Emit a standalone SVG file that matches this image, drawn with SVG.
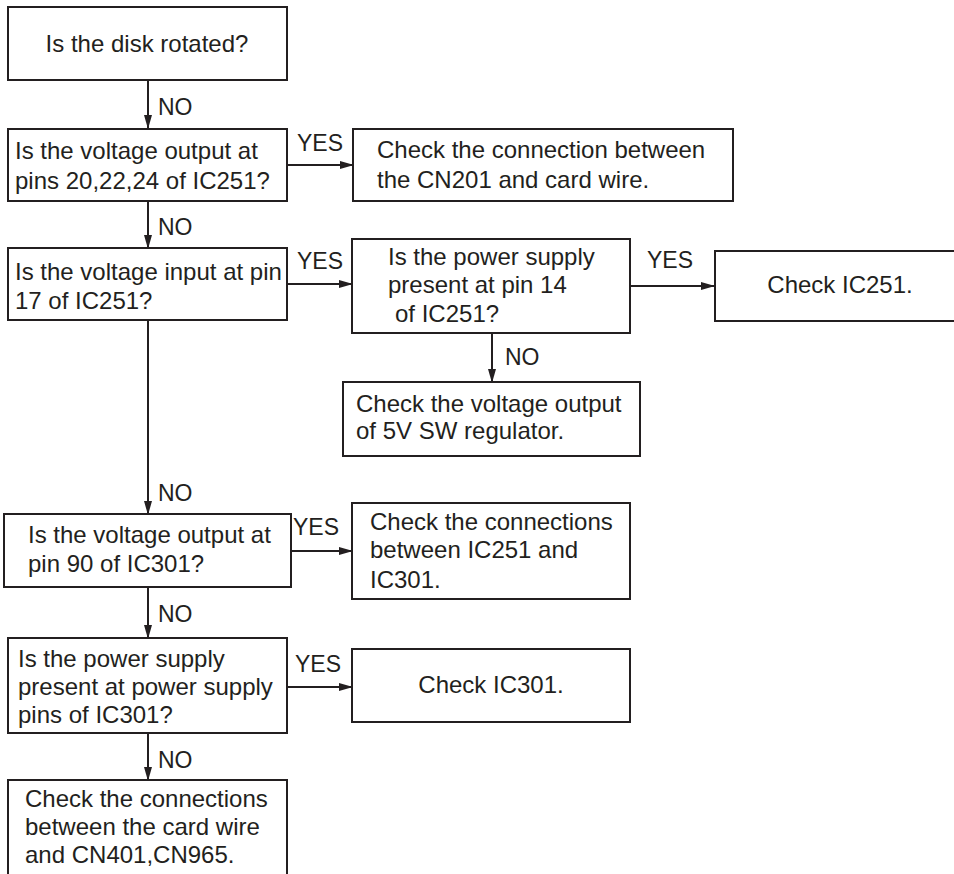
<svg xmlns="http://www.w3.org/2000/svg" width="954" height="874" viewBox="0 0 954 874">
<defs>
<marker id="ah" markerWidth="14" markerHeight="10" refX="13" refY="5" orient="auto" markerUnits="userSpaceOnUse">
<path d="M0,1 L14,5 L0,9 Z" fill="#231f20"/>
</marker>
</defs>
<style>
.box{fill:#fff;stroke:#231f20;stroke-width:2}
.t{font-family:"Liberation Sans",Arial,sans-serif;font-size:24px;fill:#231f20}
.c{text-anchor:middle}
.l{font-family:"Liberation Sans",Arial,sans-serif;font-size:23px;fill:#231f20}
.e{fill:none;stroke:#231f20;stroke-width:2}
</style>
<rect width="954" height="874" fill="#fff"/>
<g id="connectors">
<line class="e" x1="148" y1="80" x2="148" y2="128" marker-end="url(#ah)"/>
<line class="e" x1="287" y1="165" x2="353" y2="165" marker-end="url(#ah)"/>
<line class="e" x1="148" y1="201" x2="148" y2="248" marker-end="url(#ah)"/>
<line class="e" x1="287" y1="284" x2="352" y2="284" marker-end="url(#ah)"/>
<line class="e" x1="630" y1="286" x2="714" y2="286" marker-end="url(#ah)"/>
<line class="e" x1="492" y1="333" x2="492" y2="382" marker-end="url(#ah)"/>
<line class="e" x1="148" y1="320" x2="148" y2="514" marker-end="url(#ah)"/>
<line class="e" x1="291" y1="551" x2="352" y2="551" marker-end="url(#ah)"/>
<line class="e" x1="148" y1="587" x2="148" y2="638" marker-end="url(#ah)"/>
<line class="e" x1="287" y1="687" x2="352" y2="687" marker-end="url(#ah)"/>
<line class="e" x1="148" y1="733" x2="148" y2="780" marker-end="url(#ah)"/>
<text class="l" x="158" y="115">NO</text>
<text class="l" x="158" y="235">NO</text>
<text class="l" x="158" y="501">NO</text>
<text class="l" x="158" y="622">NO</text>
<text class="l" x="158" y="768">NO</text>
<text class="l" x="505" y="365">NO</text>
<text class="l" x="297" y="151">YES</text>
<text class="l" x="297" y="269">YES</text>
<text class="l" x="647" y="268">YES</text>
<text class="l" x="293" y="535">YES</text>
<text class="l" x="295" y="672">YES</text>
</g>
<g id="n1"><rect class="box" x="8" y="7" width="279" height="73"/><text class="t c" x="147" y="52">Is the disk rotated?</text></g>
<g id="n2"><rect class="box" x="8" y="129" width="279" height="72"/><text class="t" x="15" y="159">Is the voltage output at</text><text class="t" x="15" y="189">pins 20,22,24 of IC251?</text></g>
<g id="n3"><rect class="box" x="353" y="129" width="380" height="72"/><text class="t" x="377" y="158">Check the connection between</text><text class="t" x="377" y="188">the CN201 and card wire.</text></g>
<g id="n4"><rect class="box" x="8" y="248" width="279" height="72"/><text class="t" x="15" y="280">Is the voltage input at pin</text><text class="t" x="15" y="309">17 of IC251?</text></g>
<g id="n5"><rect class="box" x="352" y="239" width="278" height="94"/><text class="t" x="388" y="265">Is the power supply</text><text class="t" x="388" y="293">present at pin 14</text><text class="t" x="395" y="322">of IC251?</text></g>
<g id="n6"><rect class="box" x="715" y="251" width="242" height="70"/><text class="t c" x="840" y="293">Check IC251.</text></g>
<g id="n7"><rect class="box" x="343" y="382" width="297" height="74"/><text class="t" x="356" y="412">Check the voltage output</text><text class="t" x="356" y="439">of 5V SW regulator.</text></g>
<g id="n8"><rect class="box" x="4" y="514" width="287" height="73"/><text class="t" x="28" y="543">Is the voltage output at</text><text class="t" x="28" y="572">pin 90 of IC301?</text></g>
<g id="n9"><rect class="box" x="352" y="503" width="278" height="96"/><text class="t" x="370" y="530">Check the connections</text><text class="t" x="370" y="558">between IC251 and</text><text class="t" x="370" y="588">IC301.</text></g>
<g id="n10"><rect class="box" x="8" y="638" width="279" height="95"/><text class="t" x="18" y="667">Is the power supply</text><text class="t" x="18" y="695">present at power supply</text><text class="t" x="18" y="723">pins of IC301?</text></g>
<g id="n11"><rect class="box" x="352" y="649" width="278" height="73"/><text class="t c" x="491" y="693">Check IC301.</text></g>
<g id="n12"><rect class="box" x="8" y="780" width="279" height="100"/><text class="t" x="25" y="807">Check the connections</text><text class="t" x="25" y="835">between the card wire</text><text class="t" x="25" y="863">and CN401,CN965.</text></g>
</svg>
